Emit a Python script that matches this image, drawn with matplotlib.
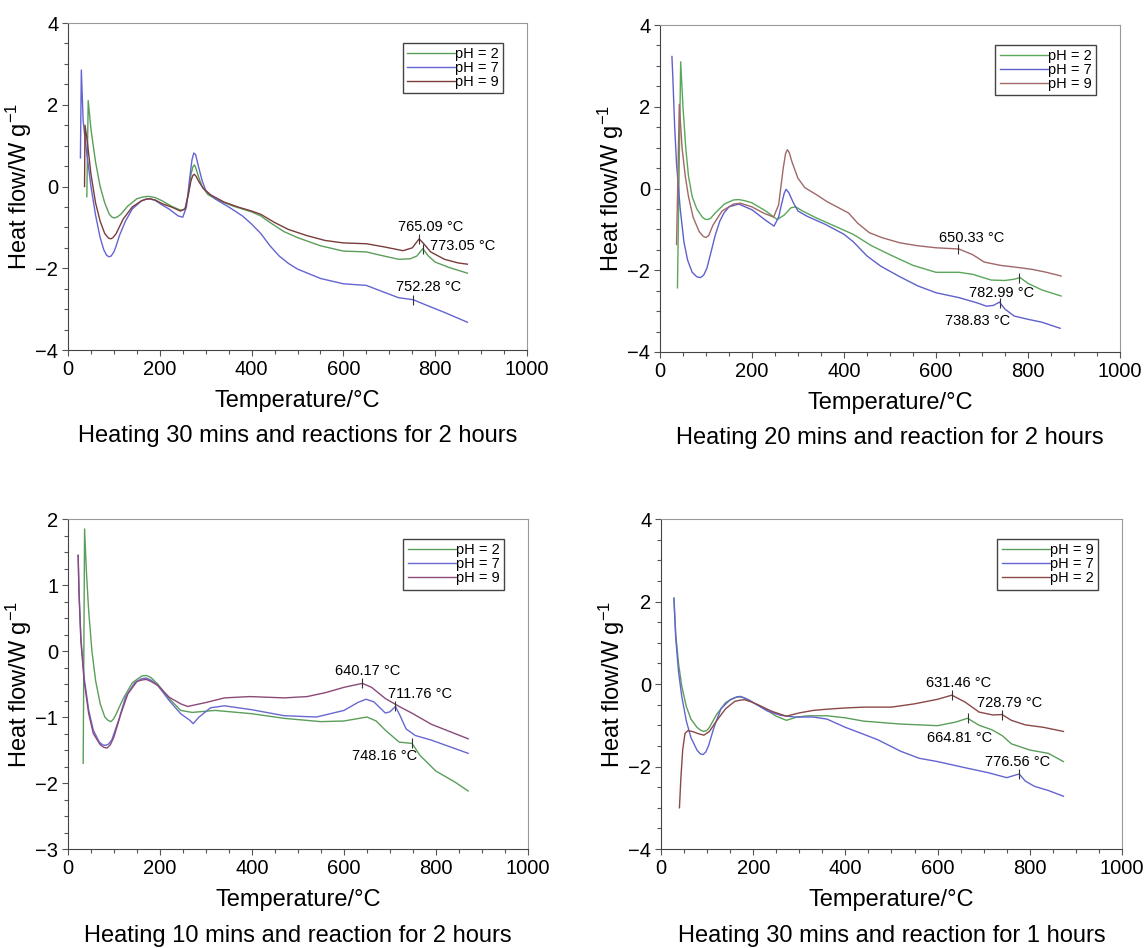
import numpy as np
import matplotlib
matplotlib.use("Agg")
import matplotlib.pyplot as plt
from matplotlib.ticker import MultipleLocator

plt.rcParams['font.family'] = ['Liberation Sans', 'DejaVu Sans']
plt.rcParams['mathtext.fontset'] = 'custom'
plt.rcParams['mathtext.rm'] = 'Liberation Sans'
plt.rcParams['mathtext.it'] = 'Liberation Sans:italic'

#------------------------------------------------------------
# Panel 1: heating 30 mins, reaction 2 hours
p1_green_T = [41, 44, 50, 60, 70, 80, 90, 96, 101, 108, 115, 130, 150, 162, 175, 190, 205, 225, 245, 255, 262, 268, 272, 275, 278, 284, 292, 305, 330, 360, 400, 420, 440, 470, 500, 550, 600, 650, 680, 720, 745, 760, 773, 785, 800, 830, 870]
p1_green_v = [-0.25, 2.1, 1.4, 0.6, 0.0, -0.4, -0.68, -0.75, -0.77, -0.74, -0.68, -0.48, -0.3, -0.26, -0.24, -0.27, -0.35, -0.48, -0.58, -0.55, -0.2, 0.3, 0.48, 0.53, 0.47, 0.25, 0.0, -0.2, -0.35, -0.48, -0.62, -0.72, -0.88, -1.1, -1.25, -1.45, -1.58, -1.6, -1.68, -1.78, -1.77, -1.7, -1.52, -1.7, -1.85, -1.98, -2.12]
p1_blue_T = [27, 29, 33, 40, 50, 60, 70, 78, 84, 89, 94, 100, 105, 112, 125, 140, 160, 170, 178, 190, 205, 220, 240, 250, 258, 265, 270, 274, 278, 284, 292, 300, 320, 350, 380, 400, 420, 440, 460, 480, 500, 550, 600, 650, 680, 720, 752, 780, 820, 870]
p1_blue_v = [0.7, 2.85, 1.6, 0.9, 0.0, -0.7, -1.25, -1.55, -1.68, -1.72, -1.7, -1.6, -1.45, -1.2, -0.85, -0.55, -0.35, -0.31, -0.3, -0.34, -0.45, -0.55, -0.72, -0.75, -0.5, 0.2, 0.65, 0.82, 0.78, 0.5, 0.15, -0.1, -0.3, -0.5, -0.72, -0.92, -1.15, -1.45, -1.7, -1.88, -2.02, -2.25, -2.38, -2.42, -2.55, -2.72, -2.77, -2.9, -3.08, -3.32]
p1_brown_T = [36, 37, 42, 50, 60, 70, 80, 88, 93, 98, 105, 120, 140, 160, 170, 178, 190, 205, 225, 245, 255, 262, 268, 272, 275, 279, 285, 295, 310, 340, 370, 400, 420, 450, 480, 520, 560, 600, 650, 690, 730, 750, 765, 775, 790, 820, 850, 870]
p1_brown_v = [0.0, 1.5, 1.1, 0.3, -0.4, -0.85, -1.15, -1.26, -1.28, -1.25, -1.15, -0.8, -0.5, -0.35, -0.31, -0.3, -0.33, -0.42, -0.5, -0.6, -0.55, -0.2, 0.15, 0.27, 0.3, 0.25, 0.12, -0.05, -0.2, -0.38, -0.5, -0.6, -0.68, -0.88, -1.05, -1.2, -1.32, -1.38, -1.4, -1.48, -1.57, -1.5, -1.28, -1.4, -1.6, -1.78, -1.87, -1.9]
p1_labels = ['pH = 2', 'pH = 7', 'pH = 9']
p1_peaks_T = [765, 773, 752]
p1_peaks_v = [-1.28, -1.52, -2.77]
p1_peaks_text = ['765.09 °C', '773.05 °C', '752.28 °C']
p1_caption = 'Heating 30 mins and reactions for 2 hours'

# Panel 2: heating 20 mins, reaction 2 hours
p2_green_T = [38, 45, 50, 56, 62, 70, 80, 92, 98, 104, 110, 120, 140, 160, 171, 185, 200, 230, 255, 270, 285, 295, 310, 340, 380, 420, 460, 500, 550, 600, 650, 680, 720, 750, 770, 783, 800, 830, 872]
p2_green_v = [-2.43, 3.1, 2.0, 1.0, 0.3, -0.2, -0.5, -0.7, -0.75, -0.76, -0.73, -0.6, -0.38, -0.28, -0.27, -0.3, -0.35, -0.55, -0.76, -0.65, -0.47, -0.45, -0.55, -0.72, -0.92, -1.12, -1.4, -1.62, -1.88, -2.05, -2.05, -2.1, -2.24, -2.25, -2.22, -2.18, -2.32, -2.48, -2.63]
p2_blue_T = [26, 28, 32, 36, 44, 52, 60, 70, 80, 88, 95, 102, 110, 120, 130, 139, 150, 171, 200, 230, 248, 258, 264, 270, 274, 280, 290, 300, 320, 360, 400, 420, 450, 480, 520, 560, 600, 650, 690, 710, 725, 738, 750, 770, 800, 830, 870]
p2_blue_v = [3.23, 2.7, 1.5, 0.6, -0.5, -1.3, -1.75, -2.05, -2.16, -2.18, -2.12, -1.95, -1.6, -1.15, -0.8, -0.6, -0.45, -0.38, -0.52, -0.78, -0.92, -0.7, -0.4, -0.12, -0.02, -0.1, -0.35, -0.55, -0.68, -0.88, -1.12, -1.3, -1.65, -1.9, -2.15, -2.38, -2.55, -2.67, -2.8, -2.88, -2.86, -2.78, -2.95, -3.12, -3.2, -3.27, -3.42]
p2_brown_T = [36, 42, 48, 55, 62, 72, 85, 94, 100, 106, 115, 135, 160, 175, 200, 225, 247, 258, 268, 273, 277, 281, 287, 300, 315, 340, 363, 390, 410, 430, 455, 482, 522, 560, 600, 650, 680, 705, 740, 777, 810, 840, 872]
p2_brown_v = [-1.37, 2.06, 1.0, 0.3, -0.2, -0.7, -1.05, -1.17, -1.2, -1.15, -0.9, -0.55, -0.38, -0.36, -0.45, -0.6, -0.7, -0.4, 0.5, 0.85, 0.95, 0.88, 0.65, 0.25, 0.02, -0.15, -0.32, -0.48, -0.6, -0.85, -1.08, -1.2, -1.33, -1.4, -1.45, -1.48, -1.62, -1.8, -1.88, -1.93, -1.98, -2.05, -2.14]
p2_labels = ['pH = 2', 'pH = 7', 'pH = 9']
p2_peaks_T = [649, 781, 739]
p2_peaks_v = [-1.48, -2.18, -2.8]
p2_peaks_text = ['650.33 °C', '782.99 °C', '738.83 °C']
p2_caption = 'Heating 20 mins and reaction for 2 hours'

# Panel 3: heating 10 mins, reaction 2 hours
p3_green_T = [33, 36, 40, 45, 52, 60, 70, 80, 87, 93, 99, 105, 120, 140, 160, 170, 180, 195, 220, 245, 270, 320, 400, 470, 550, 600, 650, 670, 690, 720, 748, 765, 800, 840, 870]
p3_green_v = [-1.7, 1.85, 1.2, 0.6, 0.0, -0.45, -0.8, -1.0, -1.05, -1.07, -1.03, -0.95, -0.72, -0.48, -0.38, -0.37, -0.4, -0.5, -0.72, -0.9, -0.93, -0.9, -0.95, -1.02, -1.07, -1.06, -1.0, -1.06, -1.2, -1.38, -1.4, -1.58, -1.82, -1.98, -2.12]
p3_blue_T = [22, 24, 28, 35, 45, 55, 68, 75, 81, 88, 95, 110, 125, 145, 160, 170, 180, 195, 220, 245, 265, 272, 285, 310, 340, 400, 470, 540, 600, 630, 648, 665, 690, 700, 712, 722, 735, 755, 790, 830, 870]
p3_blue_v = [1.45, 0.9, 0.2, -0.4, -0.9, -1.2, -1.38, -1.42, -1.43, -1.41, -1.35, -1.05, -0.7, -0.48, -0.42, -0.41, -0.44, -0.52, -0.75, -0.95, -1.05, -1.1, -1.0, -0.86, -0.83, -0.89, -0.98, -1.0, -0.9, -0.78, -0.73, -0.77, -0.94, -0.92, -0.84, -0.98, -1.18, -1.28, -1.35, -1.45, -1.55]
p3_brown_T = [22, 24, 28, 35, 45, 55, 70, 78, 85, 92, 100, 115, 130, 150, 160, 170, 180, 195, 220, 245, 260, 300, 340, 395, 470, 520, 560, 600, 640, 660, 690, 720, 750, 790, 830, 870]
p3_brown_v = [1.45, 0.85, 0.15, -0.45, -0.95, -1.25, -1.42, -1.46, -1.47, -1.42, -1.3, -0.95, -0.65, -0.46, -0.44, -0.43, -0.46, -0.52, -0.7, -0.8, -0.84, -0.78, -0.71, -0.69, -0.71, -0.69, -0.63, -0.55, -0.49, -0.55, -0.72, -0.84, -0.95, -1.11, -1.22, -1.33]
p3_labels = ['pH = 2', 'pH = 7', 'pH = 9']
p3_peaks_T = [640, 712, 748]
p3_peaks_v = [-0.49, -0.84, -1.4]
p3_peaks_text = ['640.17 °C', '711.76 °C', '748.16 °C']
p3_caption = 'Heating 10 mins and reaction for 2 hours'

# Panel 4: heating 30 mins, reaction 1 hour
p4_green_T = [28, 32, 38, 45, 55, 65, 78, 86, 93, 100, 105, 120, 140, 160, 170, 177, 190, 200, 225, 250, 272, 295, 320, 360, 400, 440, 520, 600, 640, 665, 690, 718, 740, 760, 800, 840, 873]
p4_green_v = [2.08, 1.2, 0.5, -0.05, -0.55, -0.85, -1.05, -1.12, -1.15, -1.12, -1.05, -0.75, -0.45, -0.33, -0.31, -0.32, -0.38, -0.45, -0.6, -0.78, -0.88, -0.8, -0.77, -0.77, -0.82, -0.9, -0.97, -1.01, -0.92, -0.83, -1.0, -1.11, -1.25, -1.45, -1.6, -1.68, -1.88]
p4_blue_T = [28, 32, 38, 45, 55, 65, 78, 85, 91, 97, 103, 115, 130, 150, 165, 172, 185, 200, 230, 260, 290, 330, 360, 400, 440, 470, 520, 560, 600, 660, 710, 750, 777, 790, 810, 840, 873]
p4_blue_v = [2.08, 1.1, 0.3, -0.3, -0.9, -1.3, -1.6, -1.69, -1.71, -1.65, -1.5, -1.05, -0.6, -0.38, -0.31, -0.3, -0.36, -0.45, -0.65, -0.76, -0.8, -0.8, -0.85, -1.05, -1.22, -1.35, -1.63, -1.8, -1.88, -2.03, -2.15, -2.27, -2.18, -2.35, -2.48, -2.58, -2.72]
p4_brown_T = [40, 43, 47, 52, 58, 68, 80, 93, 105, 120, 140, 160, 172, 181, 195, 210, 240, 272, 300, 330, 360, 400, 440, 500, 550, 600, 631, 660, 690, 720, 740, 760, 790, 830, 873]
p4_brown_v = [-3.0, -2.3, -1.6, -1.2, -1.13, -1.15, -1.2, -1.24, -1.15, -0.9, -0.6, -0.42, -0.39, -0.38, -0.43, -0.5, -0.66, -0.78, -0.7, -0.64, -0.61, -0.58, -0.56, -0.56, -0.48, -0.37, -0.27, -0.44, -0.68, -0.75, -0.74, -0.88, -0.99, -1.05, -1.15]
p4_labels = ['pH = 9', 'pH = 7', 'pH = 2']
p4_peaks_T = [631, 740, 665, 777]
p4_peaks_v = [-0.27, -0.74, -0.83, -2.18]
p4_peaks_text = ['631.46 °C', '728.79 °C', '664.81 °C', '776.56 °C']
p4_caption = 'Heating 30 mins and reaction for 1 hours'

#------------------------------------------------------------
panels = [
    dict(rect=[0.0594, 0.6308, 0.4009, 0.3449], ylim=(-4, 4), ymaj=2, ymin=0.5,
         curves=[(p1_green_T, p1_green_v), (p1_blue_T, p1_blue_v), (p1_brown_T, p1_brown_v)],
         colors=['#5a9e5a', '#6464d2', '#7a3c3c'], labels=p1_labels,
         peaks=(p1_peaks_T, p1_peaks_v, p1_peaks_text),
         offs=[(11, 12, 'center'), (7, 3, 'left'), (15, 13, 'center')],
         caption=p1_caption),
    dict(rect=[0.5764, 0.6287, 0.4017, 0.3449], ylim=(-4, 4), ymaj=2, ymin=0.5,
         curves=[(p2_green_T, p2_green_v), (p2_blue_T, p2_blue_v), (p2_brown_T, p2_brown_v)],
         colors=['#5aa65a', '#6060cc', '#a06868'], labels=p2_labels,
         peaks=(p2_peaks_T, p2_peaks_v, p2_peaks_text),
         offs=[(13, 11, 'center'), (-18, -15, 'center'), (-22, -18, 'center')],
         caption=p2_caption),
    dict(rect=[0.0594, 0.1044, 0.4017, 0.3481], ylim=(-3, 2), ymaj=1, ymin=0.25,
         curves=[(p3_green_T, p3_green_v), (p3_blue_T, p3_blue_v), (p3_brown_T, p3_brown_v)],
         colors=['#5a9e5a', '#6868d0', '#8a4a78'], labels=p3_labels,
         peaks=(p3_peaks_T, p3_peaks_v, p3_peaks_text),
         offs=[(5, 12, 'center'), (25, 12, 'center'), (-27, -13, 'center')],
         caption=p3_caption),
    dict(rect=[0.5773, 0.1044, 0.4026, 0.3481], ylim=(-4, 4), ymaj=2, ymin=0.5,
         curves=[(p4_green_T, p4_green_v), (p4_blue_T, p4_blue_v), (p4_brown_T, p4_brown_v)],
         colors=['#5a9e5a', '#6464d2', '#8a4848'], labels=p4_labels,
         peaks=(p4_peaks_T, p4_peaks_v, p4_peaks_text),
         offs=[(7, 12, 'center'), (7, 12, 'center'), (-8, -20, 'center'), (-2, 12, 'center')],
         caption=p4_caption),
]

fig = plt.figure(figsize=(11.45, 9.48), dpi=100)

for p in panels:
    ax = fig.add_axes(p['rect'])
    for (T, v), c, lab in zip(p['curves'], p['colors'], p['labels']):
        ax.plot(T, v, color=c, lw=1.0, label=lab)

    # peak markers and labels
    pT, pv, ptxt = p['peaks']
    ax.plot(pT, pv, ls='none', marker='|', ms=7, mew=0.8, color='#333333')
    for T, v, s, (dx, dy, ha) in zip(pT, pv, ptxt, p['offs']):
        ax.annotate(s, (T, v), xytext=(dx, dy), textcoords='offset pixels',
                    ha=ha, va='center', fontsize=10.5)

    ax.set_xlim(0, 1000)
    ax.set_ylim(*p['ylim'])
    ax.xaxis.set_major_locator(MultipleLocator(200))
    ax.xaxis.set_minor_locator(MultipleLocator(50))
    ax.yaxis.set_major_locator(MultipleLocator(p['ymaj']))
    ax.yaxis.set_minor_locator(MultipleLocator(p['ymin']))
    ax.tick_params(which='both', direction='out', color='#555555', width=0.8, labelsize=14.5, pad=3)
    ax.tick_params(which='major', length=4)
    ax.tick_params(which='minor', length=3)
    for side in ['left', 'bottom']:
        ax.spines[side].set_color('#444444')
    for side in ['top', 'right']:
        ax.spines[side].set_color('#999999')

    ax.set_xlabel('Temperature/°C', fontsize=17, labelpad=8)
    ax.set_ylabel(r'Heat flow/W g$^{-1}$', fontsize=17)
    ax.yaxis.set_label_coords(-0.074, 0.5)
    ax.text(0.5, -0.263, p['caption'], transform=ax.transAxes, ha='center', va='center', fontsize=17)

    leg = ax.legend(loc='upper right', bbox_to_anchor=(0.948, 0.94), fontsize=10.5,
                    handlelength=3.3, handletextpad=0.0, labelspacing=0.0, borderpad=0.3,
                    borderaxespad=0, fancybox=False, framealpha=1)
    leg.get_frame().set_edgecolor('#444444')
    leg.get_frame().set_linewidth(1.0)

plt.savefig('out.png', dpi=100)
